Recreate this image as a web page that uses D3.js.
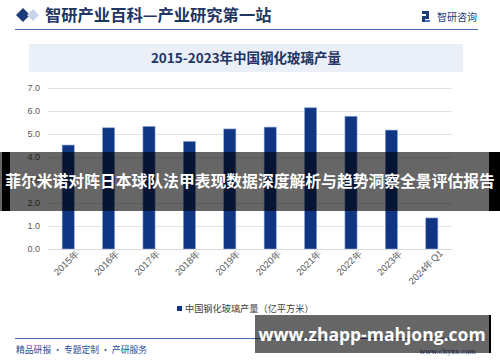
<!DOCTYPE html>
<html>
<head>
<meta charset="utf-8">
<script src="https://cdn.jsdelivr.net/npm/d3@7"></script>
<style>
  body { margin: 0; background: #fff; }
  svg { display: block; font-family: "Noto Sans CJK SC", "Noto Sans", sans-serif; }
</style>
</head>
<body>
<svg width="500" height="362"></svg>
<script>
// chart data
const years = ['2015年', '2016年', '2017年', '2018年', '2019年', '2020年', '2021年', '2022年', '2023年', '2024年Q1'];
const output = [4.52, 5.27, 5.33, 4.68, 5.22, 5.30, 6.14, 5.77, 5.17, 1.35];
const yTicks = [0, 1, 2, 3, 4, 5, 6, 7];
const seriesName = '中国钢化玻璃产量（亿平方米）';
const chartTitle = '2015-2023年中国钢化玻璃产量';

const svg = d3.select('svg');
const width = +svg.attr('width');
const height = +svg.attr('height');

const navy = '#1f3564';
const barColor = '#0f3583';

// header
svg.append('path')
    .attr('d', 'M16,15 L23,8 L30,15 L23,22 Z')
    .attr('fill', '#1d3a7a');
svg.append('path')
    .attr('d', 'M27,15 L33,9 L39,15 L33,21 Z')
    .attr('fill', '#c9d4ea');
svg.append('text')
    .attr('x', 45).attr('y', 21)
    .attr('font-size', 16.3).attr('font-weight', 'bold')
    .attr('fill', navy)
    .text('智研产业百科—产业研究第一站');

// logo on the right
const logo = svg.append('g').attr('transform', 'translate(422,11)');
logo.append('rect').attr('x', 0).attr('y', 0).attr('width', 7).attr('height', 3).attr('fill', '#1d3a7a');
logo.append('rect').attr('x', 4).attr('y', 0).attr('width', 3).attr('height', 8).attr('fill', '#1d3a7a');
logo.append('rect').attr('x', 0).attr('y', 5).attr('width', 4).attr('height', 3).attr('fill', '#1d3a7a');
logo.append('rect').attr('x', 0).attr('y', 5).attr('width', 3).attr('height', 6).attr('fill', '#1d3a7a');
logo.append('rect').attr('x', 3).attr('y', 9).attr('width', 5).attr('height', 2).attr('fill', '#3f73c7');
svg.append('text')
    .attr('x', 437).attr('y', 21)
    .attr('font-size', 10)
    .attr('fill', '#1d3a7a')
    .text('智研咨询');

svg.append('line')
    .attr('x1', 15).attr('x2', 478)
    .attr('y1', 29.5).attr('y2', 29.5)
    .attr('stroke', '#4a6cb3').attr('stroke-width', 1);

// title box
svg.append('rect')
    .attr('x', 29).attr('y', 44)
    .attr('width', 434).attr('height', 28)
    .attr('fill', '#eaeff8');
svg.append('text')
    .attr('x', 246).attr('y', 63)
    .attr('text-anchor', 'middle')
    .attr('font-size', 13.5).attr('font-weight', 'bold')
    .attr('fill', navy)
    .text(chartTitle);

// plot
const margin = {top: 88, left: 48, right: 48, bottom: 113};
const innerWidth = width - margin.left - margin.right;
const innerHeight = height - margin.top - margin.bottom;

const g = svg.append('g')
    .attr('transform', `translate(${margin.left},${margin.top})`);

const xScale = d3.scaleBand()
    .domain(years)
    .range([0, innerWidth])
    .paddingInner(0.7)
    .paddingOuter(0.35);

const yScale = d3.scaleLinear()
    .domain([0, 7])
    .range([innerHeight, 0]);

const yAxis = d3.axisLeft(yScale)
    .tickValues(yTicks)
    .tickSize(-innerWidth)
    .tickPadding(8);
const yAxisG = g.append('g').call(yAxis);
yAxisG.select('.domain').remove();
yAxisG.selectAll('.tick line').attr('stroke', '#e3e3e3');
yAxisG.selectAll('.tick text')
    .attr('fill', '#595959')
    .attr('font-size', 9)
    .attr('font-family', 'Liberation Sans, Arial, sans-serif');

g.selectAll('rect.bar').data(output)
    .enter().append('rect')
        .attr('class', 'bar')
        .attr('x', (d, i) => xScale(years[i]))
        .attr('y', d => yScale(d))
        .attr('width', xScale.bandwidth())
        .attr('height', d => innerHeight - yScale(d))
        .attr('fill', barColor)
        .attr('stroke', '#8aa3d6')
        .attr('stroke-width', 0.6);

const xAxis = d3.axisBottom(xScale).tickSize(0).tickPadding(6);
const xAxisG = g.append('g')
    .attr('transform', `translate(0,${innerHeight})`)
    .call(xAxis);
xAxisG.select('.domain').attr('stroke', '#d9d9d9');
xAxisG.selectAll('.tick text')
    .attr('fill', '#595959')
    .attr('font-size', 9.5)
    .attr('font-family', 'Liberation Sans, Arial, sans-serif')
    .attr('text-anchor', 'end')
    .attr('dx', '0.5em')
    .attr('dy', '0.6em')
    .attr('transform', 'rotate(-45)');

// legend
svg.append('rect')
    .attr('x', 177).attr('y', 306)
    .attr('width', 5).attr('height', 5)
    .attr('fill', barColor);
svg.append('text')
    .attr('x', 185).attr('y', 312)
    .attr('font-size', 9.2)
    .attr('fill', '#404040')
    .text(seriesName);

// footer
svg.append('line')
    .attr('x1', 15).attr('x2', 478)
    .attr('y1', 338.5).attr('y2', 338.5)
    .attr('stroke', '#4a6cb3').attr('stroke-width', 1);
svg.append('text')
    .attr('x', 16).attr('y', 353)
    .attr('font-size', 8.8)
    .attr('fill', '#2a4b94')
    .text('精品研报 · 专题定制 · 产研服务');
svg.append('text')
    .attr('x', 476).attr('y', 354)
    .attr('text-anchor', 'end')
    .attr('font-size', 7)
    .attr('font-family', 'DejaVu Serif, serif')
    .attr('fill', '#2a4b94')
    .text('www.chyxx.com');

// overlay banners
svg.append('rect')
    .attr('x', 0).attr('y', 152)
    .attr('width', 500).attr('height', 59)
    .attr('fill', 'rgba(0,0,0,0.6)');
svg.append('rect').attr('x', 2).attr('y', 152).attr('width', 8).attr('height', 59).attr('fill', '#000');
svg.append('rect').attr('x', 489).attr('y', 152).attr('width', 11).attr('height', 59).attr('fill', '#000');
svg.append('text')
    .attr('x', 250).attr('y', 187)
    .attr('text-anchor', 'middle')
    .attr('font-size', 15.8).attr('font-weight', 'bold')
    .attr('fill', '#fff')
    .text('菲尔米诺对阵日本球队法甲表现数据深度解析与趋势洞察全景评估报告');

svg.append('rect')
    .attr('x', 255).attr('y', 315)
    .attr('width', 235).attr('height', 38)
    .attr('fill', 'rgba(0,0,0,0.6)');
svg.append('rect').attr('x', 489).attr('y', 315).attr('width', 2).attr('height', 38).attr('fill', '#000');
svg.append('text')
    .attr('x', 372).attr('y', 341)
    .attr('text-anchor', 'middle')
    .attr('font-size', 17.5).attr('font-weight', 'bold')
    .attr('font-family', 'Open Sans, Noto Sans, sans-serif')
    .attr('fill', '#fff')
    .text('www.zhapp-mahjong.com');
</script>
</body>
</html>
